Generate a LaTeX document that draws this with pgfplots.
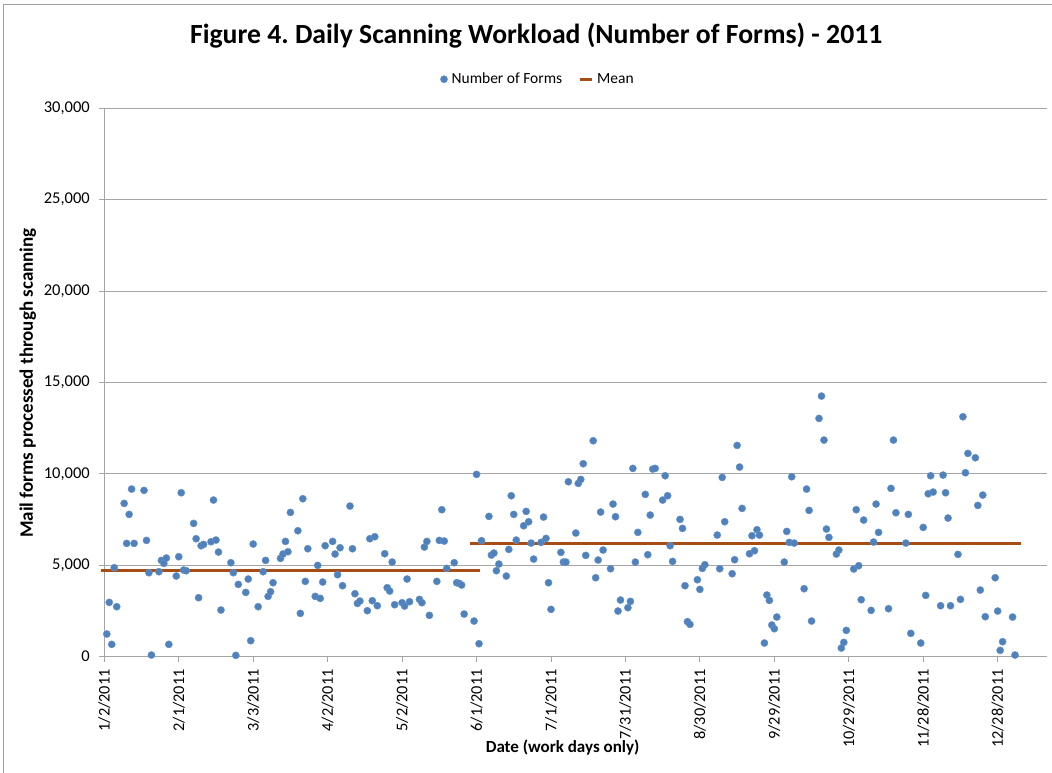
\documentclass[border=0pt]{standalone}
\usepackage{pgfplots}
\pgfplotsset{compat=1.18}
\usepackage{fontspec}
\setmainfont{Carlito}
\frenchspacing
\definecolor{c1}{RGB}{79,129,189}
\definecolor{meanc}{RGB}{166,77,21}
\definecolor{gridc}{RGB}{165,165,165}
\begin{document}
\begin{tikzpicture}
\useasboundingbox (0,0) rectangle (1052pt,773pt);
\draw[gray!75, line width=0.8pt] (3pt,-5pt) -- (3pt,769pt) -- (1060pt,769pt);
\begin{axis}[
  at={(104.3pt,116.3pt)}, anchor=south west,
  scale only axis, width=943pt, height=548.4pt,
  xmin=0, xmax=380, ymin=0, ymax=30000,
  clip=false,
  axis x line*=bottom, axis y line*=left,
  axis line style={gridc, line width=0.8pt, -},
  xtick={0,30,...,360},
  xticklabels={1/2/2011,2/1/2011,3/3/2011,4/2/2011,5/2/2011,6/1/2011,7/1/2011,7/31/2011,8/30/2011,9/29/2011,10/29/2011,11/28/2011,12/28/2011},
  x tick label style={rotate=90, anchor=east, font=\fontsize{16.3}{19}\selectfont, xshift=-4pt},
  ytick={0,5000,...,30000},
  y tick label style={font=\fontsize{16.5}{19}\selectfont, xshift=-6pt},
  yticklabel style={/pgf/number format/1000 sep={,}},
  scaled y ticks=false,
  /pgf/number format/assume math mode=true,
  tick align=outside, major tick length=5pt,
  tick style={gridc, line width=0.8pt},
  ymajorgrids, grid style={gridc, line width=0.8pt},
  title={Figure 4. Daily Scanning Workload (Number of Forms) - 2011},
  title style={at={(axis description cs:0.458,1.121)}, anchor=center, font=\fontsize{27.7}{33}\selectfont\bfseries},
  xlabel={Date (work days only)},
  xlabel style={at={(axis description cs:0.486,-0.166)}, anchor=center, font=\fontsize{17}{20}\selectfont\bfseries},
  ylabel={Mail forms processed through scanning},
  ylabel style={at={(axis description cs:-0.081,0.499)}, anchor=center, font=\fontsize{19}{22}\selectfont\bfseries},
  legend style={at={(axis description cs:0.46,1.053)}, anchor=center, draw=none, fill=none,
    legend columns=2, font=\fontsize{15.5}{18}\selectfont,
    /tikz/every even column/.append style={column sep=14pt},
    /tikz/every odd column/.append style={column sep=2pt}},
  legend cell align=left,
]
\addplot[only marks, mark=*, mark size=3.6pt, mark options={fill=c1, draw=c1!85!white, line width=0.4pt}] coordinates {
(1,1240) (2,2971) (3,675) (4,4867) (5,2735) (8,8386) (9,6198) (10,7784) (11,9170) (12,6198)
(16,9097) (17,6362) (18,4594) (19,91) (22,4649) (23,5268) (24,5104) (25,5396) (26,675) (29,4412)
(30,5469) (31,8969) (32,4740) (33,4703) (36,7292) (37,6453) (38,3227) (39,6071) (40,6143) (43,6289)
(44,8568) (45,6380) (46,5724) (47,2552) (51,5141) (52,4594) (53,73) (54,3956) (57,3518) (58,4248)
(60,6162) (59,875)
(62,2735) (64,4649) (65,5268) (66,3300) (67,3555) (68,4047) (71,5378) (72,5615) (73,6307) (74,5742)
(75,7893) (78,6891) (79,2370) (80,8641) (81,4120) (82,5906) (85,3300) (86,4995) (87,3190) (88,4084)
(89,6071) (92,6307) (93,5615) (94,4485) (95,5961) (96,3883) (99,8240) (100,5906) (101,3445) (102,2917)
(103,3044) (106,2516) (107,6453) (108,3063) (109,6563) (110,2789) (113,5633) (114,3774) (115,3591) (116,5177)
(117,2844)
(120,2953) (121,2771) (122,4248) (123,3008) (127,3136) (128,2953) (129,5998) (130,6307) (131,2261) (134,4120)
(135,6362) (136,8040) (137,6326) (138,4831) (141,5141) (142,4047) (143,4011) (144,3920) (145,2333) (149,1951)
(150,9972) (151,711) (152,6344) (155,7675) (156,5560) (157,5669) (158,4703) (159,5068) (162,4412) (163,5870)
(164,8805) (165,7784) (166,6380) (169,7164) (170,7948) (171,7383) (172,6216) (173,5341) (176,6253) (177,7638)
(178,6472) (179,4047) (180,2589)
(184,5706) (185,5177) (186,5177) (187,9571) (190,6763) (191,9480) (192,9698) (193,10555) (194,5542) (197,11813)
(198,4320) (199,5287) (200,7912) (201,5834) (204,4813) (205,8349) (206,7657) (207,2497) (208,3099) (211,2680)
(212,3026) (213,10300) (214,5177) (215,6800) (218,8878) (219,5578) (220,7748) (221,10263) (222,10300) (225,8568)
(226,9899) (227,8805) (228,6071) (229,5214) (232,7511) (233,7019) (234,3883) (235,1914) (236,1768) (239,4211)
(240,3683) (241,4831)
(242,5032) (247,6654) (248,4813) (249,9808) (250,7383) (253,4539) (254,5305) (255,11558) (256,10373) (257,8112)
(260,5633) (261,6617) (262,5797) (263,6946) (264,6654) (266,747) (267,3373) (268,3081) (269,1732) (270,1531)
(271,2169) (274,5177) (275,6854) (276,6253) (277,9844) (278,6216) (282,3719) (283,9170) (284,8003) (285,1951)
(288,13034) (289,14256) (290,11850) (291,6982) (292,6526) (295,5615) (296,5834) (297,474) (298,784) (299,1440)
(302,4795) (303,8040) (304,4977) (305,3117) (306,7474) (309,2534) (310,6271) (311,8349) (312,6800) (316,2625)
(317,9206) (318,11850) (319,7875) (323,6216) (324,7784) (325,1276) (329,747) (330,7073) (331,3354) (332,8914)
(333,9899) (334,9006) (337,2789) (338,9935) (339,8969) (340,7584) (341,2789) (344,5597) (345,3136) (346,13126)
(347,10063) (348,11120) (351,10883) (352,8276) (353,3646) (354,8841) (355,2188) (359,4320) (360,2497) (361,346)
(362,820) (366,2169) (367,91)
};
\addlegendentry{Number of Forms}
\addplot[meanc, line width=3.5pt, legend image code/.code={\draw[meanc, line width=3pt] (0pt,0pt) -- (12pt,0pt);}] coordinates {(-1.5,4703) (151.5,4703)};
\addlegendentry{Mean}
\addplot[meanc, line width=3.5pt, forget plot] coordinates {(147.5,6180) (369.5,6180)};
\end{axis}
\end{tikzpicture}
\end{document}
